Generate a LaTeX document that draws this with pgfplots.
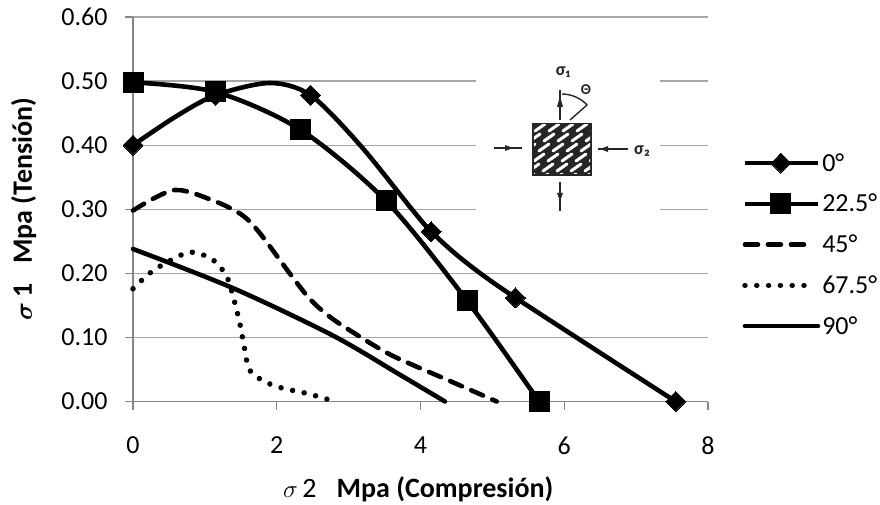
\documentclass[border=0pt]{standalone}
\usepackage{amsmath}
\usepackage{pgfplots}
\usepackage{fontspec}
\setmainfont{Carlito}
\pgfplotsset{compat=1.18}
\definecolor{axg}{HTML}{868686}
\definecolor{grd}{HTML}{A6A6A6}
\pgfplotsset{
  short60/.style={legend image code/.code={\draw[##1] (0pt,0pt) -- (60pt,0pt);}},
  short62/.style={legend image code/.code={\draw[##1] (0pt,0pt) -- (62pt,0pt);}},
}
\pgfplotstableread{
x y
0 0.400
1.15 0.478
2.47 0.478
4.15 0.265
5.32 0.162
7.55 0
}\tzero
\pgfplotstableread{
x y
0 0.400
0.6 0.445
1.15 0.478
1.9 0.497
2.47 0.478
3.16 0.400
3.88 0.300
4.15 0.265
4.6 0.220
5.32 0.162
7.55 0
}\tzeroline
\pgfplotstableread{
x y
0 0.498
1.15 0.483
2.33 0.424
3.52 0.313
4.65 0.157
5.65 0
}\ttwo
\pgfplotstableread{
x y
0 0.298
0.58 0.330
1.17 0.311
1.53 0.290
1.77 0.262
2.18 0.200
2.46 0.160
2.74 0.132
3.06 0.108
3.6 0.072
4.41 0.032
5.06 0
}\tfour
\pgfplotstableread{
x y
0 0.176
0.23 0.200
0.5 0.219
0.8 0.233
1.1 0.222
1.3 0.196
1.4 0.161
1.48 0.125
1.54 0.090
1.6 0.055
1.7 0.040
1.98 0.024
2.44 0.012
2.75 0.002
}\tsix
\pgfplotstableread{
x y
0 0.238
1.39 0.177
2.78 0.103
3.71 0.042
4.34 0
}\tnine
\newcommand{\px}[2]{(#1pt,{504pt-#2pt})}
\begin{document}
\begin{tikzpicture}[x=1pt,y=1pt]
\path[use as bounding box] (0,0) rectangle (880pt,504pt);
\begin{axis}[
  at={(133pt,102.5pt)}, anchor=south west, scale only axis,
  width=575pt, height=384.5pt,
  xmin=0, xmax=8, ymin=0, ymax=0.6,
  xtick={0,2,4,6,8}, ytick={0,0.1,0.2,0.3,0.4,0.5,0.6},
  axis x line=bottom, axis y line=left,
  axis line style={draw=axg, line width=1.3pt},
  every outer x axis line/.append style={-},
  every outer y axis line/.append style={-},
  every inner x axis line/.append style={-},
  every inner y axis line/.append style={-},
  every tick/.style={draw=axg, line width=1.3pt},
  tick align=outside, major tick length=8pt,
  ymajorgrids, major grid style={draw=grd, line width=1.2pt},
  /pgf/number format/assume math mode=true,
  yticklabel style={/pgf/number format/fixed, /pgf/number format/fixed zerofill, /pgf/number format/precision=2, font=\fontsize{26}{26}\selectfont, xshift=-14pt},
  xticklabel style={font=\fontsize{26}{26}\selectfont, yshift=-24pt},
  xlabel={$\sigma$\,2\hspace{20pt}\textbf{Mpa (Compresión)}},
  ylabel={$\boldsymbol{\sigma}$\,\textbf{1}\hspace{20pt}\textbf{Mpa (Tensión)}},
  label style={font=\fontsize{28}{28}\selectfont},
  xlabel style={at={(axis description cs:0.496,0)}, anchor=center, yshift=-88pt},
  ylabel style={at={(axis description cs:-0.19,0.5)}, anchor=center, rotate=0},
  clip=false,
  legend cell align=left,
  legend style={draw=none, fill=none, font=\fontsize{26}{26}\selectfont, row sep=17.5pt, inner sep=0pt, at={(axis description cs:1.0,0.651)}, anchor=north west, xshift=34pt, /tikz/every even column/.style={column sep=6pt}},
  legend image code/.code={
    \draw[#1,mark repeat=2,mark phase=2] plot coordinates {(0pt,0pt) (36pt,0pt) (73pt,0pt)};
  },
  cycle list={},
]
\addplot[black, line width=4.6pt, smooth, tension=0.5, forget plot] table[x=x,y=y] {\tzeroline};
\addplot[black, line width=4.6pt, mark=diamond*, mark size=10pt, mark options={solid,line width=0pt,fill=black,xscale=1.33}, only marks] table[x=x,y=y] {\tzero};
\addlegendimage{black, line width=4.6pt, mark=diamond*, mark size=10pt, mark options={solid,line width=0pt,fill=black,xscale=1.33}}
\addplot[black, line width=4.6pt, smooth, tension=0.5, mark=square*, mark size=10pt, mark options={solid,line width=0pt,fill=black}] table[x=x,y=y] {\ttwo};
\addplot[black, line width=4.6pt, smooth, tension=0.5, dash pattern=on 13pt off 10pt, line cap=round, short60] table[x=x,y=y] {\tfour};
\addplot[black, line width=5.5pt, smooth, tension=0.5, dash pattern=on 0.01pt off 11.8pt, line cap=round, short62] table[x=x,y=y] {\tsix};
\addplot[black, line width=4.6pt, smooth, tension=0.5, line cap=round] table[x=x,y=y] {\tnine};
\legend{,0°,22.5°,45°,67.5°,90°}
\end{axis}
% inset diagram
\fill[white] \px{476}{62} rectangle \px{660}{215};
\begin{scope}
\fill[black!85] \px{532}{123} rectangle \px{592}{176};
\clip \px{534}{125} rectangle \px{590}{174};
\foreach \j in {0,...,5}{
  \foreach \i in {-2,...,5}{
    \draw[white, line width=3pt, line cap=round] (524pt+\i*14pt+\j*5pt,{504pt-181pt+\j*10pt}) -- ++(10pt,7pt);
  }
}
\end{scope}
\draw[black!85, line width=1.6pt] \px{494}{148} -- \px{522}{148};
\fill[black!85] \px{505}{145} -- \px{513}{148} -- \px{505}{151} -- cycle;
\draw[black!85, line width=1.6pt] \px{598}{149} -- \px{628}{149};
\fill[black!85] \px{600}{149} -- \px{608}{146} -- \px{608}{152} -- cycle;
\draw[black!85, line width=1.8pt] \px{560}{90} -- \px{560}{120};
\fill[black!85] \px{557}{107} -- \px{560}{96} -- \px{563}{107} -- cycle;
\draw[black!85, line width=1.8pt] \px{560}{182} -- \px{560}{211};
\fill[black!85] \px{557}{193} -- \px{560}{201} -- \px{563}{193} -- cycle;
\draw[black!85, line width=1.4pt] \px{562}{94} .. controls \px{572}{94} and \px{582}{99} .. \px{587}{105} -- \px{570}{120};
\node[font=\fontsize{15}{15}\selectfont\bfseries, text=black!85, inner sep=0pt] at \px{586}{90} {Θ};
\node[font=\fontsize{18}{18}\selectfont\bfseries, text=black!85, inner sep=0pt] at \px{563}{72} {σ₁};
\node[font=\fontsize{18}{18}\selectfont\bfseries, text=black!85, inner sep=0pt] at \px{642}{151} {σ₂};
\end{tikzpicture}
\end{document}
